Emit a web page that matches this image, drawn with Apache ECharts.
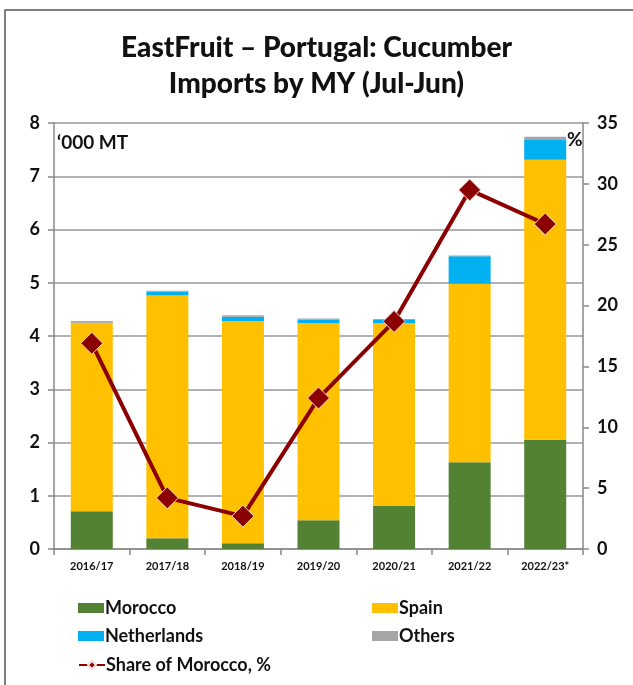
<!DOCTYPE html>
<html><head><meta charset="utf-8">
<script src="https://cdn.jsdelivr.net/npm/echarts@6/dist/echarts.min.js"></script>
<style>html,body{margin:0;padding:0;background:#fff}#c{width:633px;height:685px}</style>
</head><body><div id="c"></div>
<script>
const categories = ['2016/17','2017/18','2018/19','2019/20','2020/21','2021/22','2022/23*'];
const morocco = [0.71, 0.20, 0.11, 0.54, 0.81, 1.63, 2.05];
const spain = [3.54, 4.56, 4.17, 3.70, 3.43, 3.35, 5.26];
const netherlands = [0.00, 0.07, 0.08, 0.07, 0.06, 0.52, 0.37];
const others = [0.03, 0.02, 0.03, 0.02, 0.02, 0.01, 0.06];
const shareMorocco = [16.9, 4.2, 2.7, 12.4, 18.7, 29.5, 26.7];
const leftTicks = [0, 8, 1];
const rightTicks = [0, 35, 5];

const FONT = 'Lato';
const chart = echarts.init(document.getElementById('c'));
const barCommon = {type:'bar', stack:'t', barWidth:42, yAxisIndex:0};
function leg(name, left, top, icon){
  return {data:[icon?{name:name,icon:icon}:{name:name}], left:left, top:top, itemWidth:26, itemHeight:10, itemGap:0,
    textStyle:{fontFamily:FONT, fontWeight:'bold', fontSize:18, color:'#111', padding:[0,0,0,-4]}};
}
chart.setOption({
  animation:false,
  backgroundColor:'#fff',
  title:{text:'EastFruit – Portugal: Cucumber\nImports by MY (Jul-Jun)', left:'center', top:25,
    textStyle:{fontFamily:FONT, fontWeight:900, fontSize:28, lineHeight:36, color:'#111'}},
  grid:{left:54, right:50, top:123, bottom:136},
  legend:[
    leg('Morocco',73,594,'rect'), leg('Spain',367,594,'rect'),
    leg('Netherlands',73,622,'rect'), leg('Others',367,622,'rect'),
    leg('Share of Morocco, %',73,651)
  ],
  xAxis:{type:'category', data:categories,
    axisLine:{lineStyle:{color:'#888', width:1.5}},
    axisTick:{show:true, alignWithLabel:false, length:6, lineStyle:{color:'#888', width:1.5}},
    axisLabel:{fontFamily:FONT, fontWeight:'bold', fontSize:11, color:'#111', margin:12}},
  yAxis:[
    {type:'value', min:leftTicks[0], max:leftTicks[1], interval:leftTicks[2],
      axisLine:{show:true, lineStyle:{color:'#888', width:1.5}},
      axisTick:{show:true, length:6, lineStyle:{color:'#888', width:1.5}},
      splitLine:{lineStyle:{color:'#999', width:1.5}},
      axisLabel:{fontFamily:FONT, fontWeight:'bold', fontSize:18, color:'#111', margin:14}},
    {type:'value', min:rightTicks[0], max:rightTicks[1], interval:rightTicks[2], position:'right',
      axisLine:{show:true, lineStyle:{color:'#888', width:1.5}},
      axisTick:{show:true, length:6, lineStyle:{color:'#888', width:1.5}},
      splitLine:{show:false},
      axisLabel:{fontFamily:FONT, fontWeight:'bold', fontSize:18, color:'#111', margin:14}}
  ],
  series:[
    Object.assign({name:'Morocco', data:morocco, itemStyle:{color:'#548235'}}, barCommon),
    Object.assign({name:'Spain', data:spain, itemStyle:{color:'#FFC000'}}, barCommon),
    Object.assign({name:'Netherlands', data:netherlands, itemStyle:{color:'#00B0F0'}}, barCommon),
    Object.assign({name:'Others', data:others, itemStyle:{color:'#A5A5A5'}}, barCommon),
    {name:'Share of Morocco, %', type:'line', yAxisIndex:1, data:shareMorocco,
      symbol:'diamond', symbolSize:22, lineStyle:{color:'#8B0000', width:4},
      itemStyle:{color:'#8B0000', borderColor:'#f3dada', borderWidth:1}, z:5}
  ],
  graphic:[
    {type:'rect', shape:{x:5,y:10,width:640,height:690}, style:{fill:'none', stroke:'#555', lineWidth:1.5}},
    {type:'text', left:57, top:133, style:{text:'‘000 MT', fontFamily:FONT, fontWeight:'bold', fontSize:19, fill:'#111'}},
    {type:'text', left:567, top:130, style:{text:'%', fontFamily:FONT, fontWeight:'bold', fontSize:19, fill:'#111'}}
  ]
});
</script></body></html>
